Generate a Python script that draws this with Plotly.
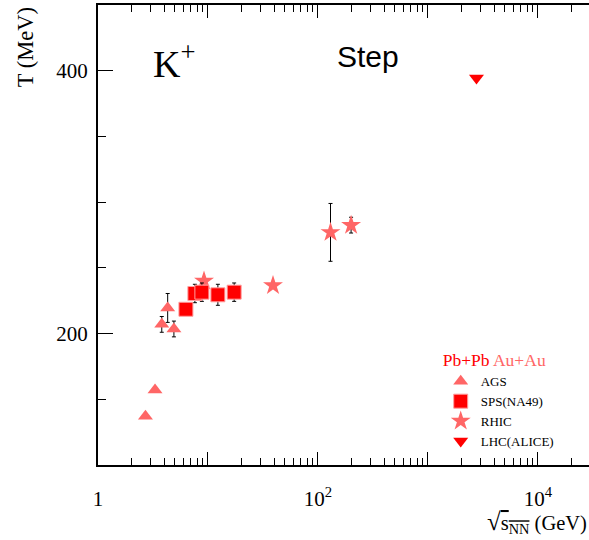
import plotly.graph_objects as go

# Kaon (K+) inverse slope parameter T versus collision energy
ags_energy = [2.7, 3.3, 3.8, 4.3, 4.9]
ags_T = [137, 157, 207, 219.5, 203.5]
ags_err = [0, 0, 6, 11, 6]

sps_energy = [6.3, 7.6, 8.8, 12.3, 17.3]
sps_T = [218.5, 230.5, 231.5, 229.5, 231.5]
sps_err = [3, 7, 7, 8, 7]

rhic_energy = [9.2, 39, 130, 200]
rhic_T = [240, 236.5, 277, 282.5]
rhic_err = [0, 0, 22, 6]

lhc_energy = [2760]
lhc_T = [394.5]

x_tick_vals = [1, 10, 100, 1000, 10000]
x_tick_text = ["1", "", "10<sup>2</sup>", "", "10<sup>4</sup>"]
x_minor_vals = [m * d for d in (1, 10, 100, 1000, 10000) for m in range(2, 10)]
y_tick_vals = [200, 400]
y_tick_text = ["200", "400"]

RED = "#ff0000"
SALMON = "#ff6666"
SERIF = "Liberation Serif, Times New Roman, serif"
SANS = "Liberation Sans, Arial, sans-serif"

fig = go.Figure()

fig.add_trace(go.Scatter(
    x=rhic_energy, y=rhic_T, mode="markers", name="RHIC", legendrank=3,
    marker=dict(symbol="star", size=15, color=SALMON, line=dict(width=0)),
    error_y=dict(type="data", array=rhic_err, color="black", thickness=1, width=2),
))
fig.add_trace(go.Scatter(
    x=sps_energy, y=sps_T, mode="markers", name="SPS(NA49)", legendrank=2,
    marker=dict(symbol="square", size=14, color=RED,
                line=dict(width=1, color="rgba(255,160,160,1)")),
    error_y=dict(type="data", array=sps_err, color="black", thickness=1, width=2),
))
fig.add_trace(go.Scatter(
    x=ags_energy, y=ags_T, mode="markers", name="AGS", legendrank=1,
    marker=dict(symbol="triangle-up", size=13, color=SALMON, line=dict(width=0)),
    error_y=dict(type="data", array=ags_err, color="black", thickness=1, width=2),
))
fig.add_trace(go.Scatter(
    x=lhc_energy, y=lhc_T, mode="markers", name="LHC(ALICE)", legendrank=4,
    marker=dict(symbol="triangle-down", size=13, color=RED, line=dict(width=0)),
))

fig.update_layout(
    width=589, height=540,
    margin=dict(l=98, r=0, t=5, b=75),
    paper_bgcolor="white", plot_bgcolor="white",
    font=dict(family=SERIF, color="black"),
    showlegend=True,
    legend=dict(
        x=0.698, y=0.264, xanchor="left", yanchor="top",
        bgcolor="rgba(0,0,0,0)", borderwidth=0,
        font=dict(family=SERIF, size=13, color="black"),
        title=dict(
            text=f"<span style='color:{RED}'>Pb+Pb</span> "
                 f"<span style='color:{SALMON}'>Au+Au</span>",
            font=dict(family=SERIF, size=17.5),
        ),
        tracegroupgap=0, itemwidth=30,
    ),
    xaxis=dict(
        type="log", range=[0, 4.464],
        showgrid=False, zeroline=False,
        showline=True, linecolor="black", linewidth=2, mirror="allticks",
        ticks="inside", ticklen=13, tickwidth=1, tickcolor="black",
        tickmode="array", tickvals=x_tick_vals, ticktext=x_tick_text,
        tickfont=dict(family=SERIF, size=21), ticklabelstandoff=14,
        minor=dict(tickmode="array", tickvals=x_minor_vals, ticks="inside",
                   ticklen=7, tickwidth=1, tickcolor="black", showgrid=False),
    ),
    yaxis=dict(
        range=[100, 450],
        showgrid=False, zeroline=False,
        showline=True, linecolor="black", linewidth=2,
        ticks="inside", ticklen=15, tickwidth=1, tickcolor="black",
        tickmode="array", tickvals=y_tick_vals, ticktext=y_tick_text,
        tickfont=dict(family=SERIF, size=21), ticklabelstandoff=4,
        minor=dict(dtick=50, tick0=0, ticks="inside", ticklen=8, tickwidth=1,
                   tickcolor="black", showgrid=False),
    ),
    yaxis2=dict(
        range=[100, 450], overlaying="y", side="right",
        showgrid=False, zeroline=False, showline=False, showticklabels=False,
        ticks="inside", ticklen=15, tickwidth=1, tickcolor="black",
        tickmode="array", tickvals=y_tick_vals,
        minor=dict(dtick=50, tick0=0, ticks="inside", ticklen=8, tickwidth=1,
                   tickcolor="black", showgrid=False),
    ),
)

fig.add_annotation(
    text="K<sup>+</sup>", xref="paper", yref="paper", x=0.108, y=0.878,
    xanchor="left", yanchor="middle", showarrow=False,
    font=dict(family=SERIF, size=38, color="black"),
)
fig.add_annotation(
    text="Step", xref="paper", yref="paper", x=0.482, y=0.888,
    xanchor="left", yanchor="middle", showarrow=False,
    font=dict(family=SANS, size=30, color="black"),
)
fig.add_annotation(
    text="T (MeV)", xref="paper", yref="paper", x=-0.149, y=0.908,
    xanchor="center", yanchor="middle", textangle=-90, showarrow=False,
    font=dict(family=SERIF, size=22.5, color="black"),
)
fig.add_annotation(
    text="<span style='font-size:25px'>√</span>"
         "<span style='text-decoration:overline'>s<sub>NN</sub></span> (GeV)",
    xref="paper", yref="paper", x=1.0, y=-0.124,
    xanchor="right", yanchor="middle", showarrow=False,
    font=dict(family=SERIF, size=20.5, color="black"),
)

fig.write_html("out.html")
